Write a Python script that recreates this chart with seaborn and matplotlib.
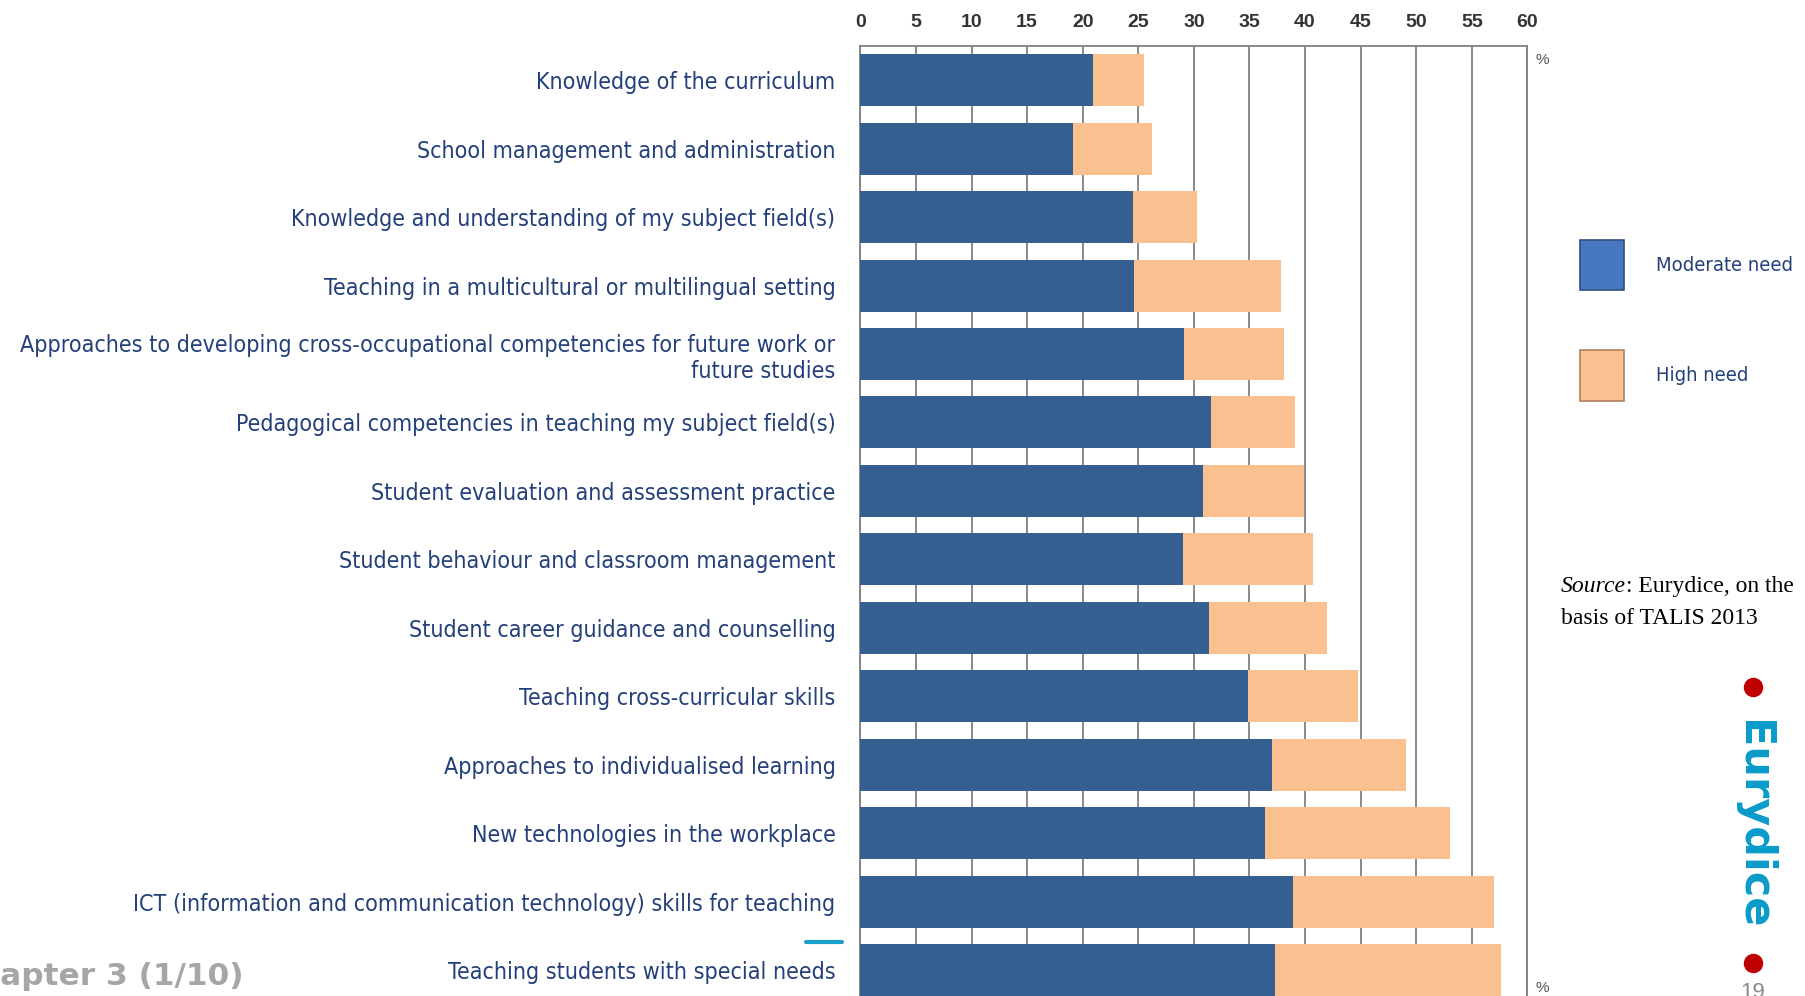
import matplotlib
matplotlib.use("Agg")
import matplotlib.pyplot as plt
import seaborn as sns
import pandas as pd
from matplotlib.patches import Patch
from matplotlib.lines import Line2D

categories = [
    "Knowledge of the curriculum",
    "School management and administration",
    "Knowledge and understanding of my subject field(s)",
    "Teaching in a multicultural or multilingual setting",
    "Approaches to developing cross-occupational competencies for future work or\nfuture studies",
    "Pedagogical competencies in teaching my subject field(s)",
    "Student evaluation and assessment practice",
    "Student behaviour and classroom management",
    "Student career guidance and counselling",
    "Teaching cross-curricular skills",
    "Approaches to individualised learning",
    "New technologies in the workplace",
    "ICT (information and communication technology) skills for teaching",
    "Teaching students with special needs",
]
moderate_need = [20.9, 19.1, 24.5, 24.6, 29.1, 31.5, 30.8, 29.0, 31.4, 34.9, 37.0, 36.4, 38.9, 37.3]
high_need = [4.6, 7.1, 5.8, 13.2, 9.0, 7.6, 9.1, 11.7, 10.6, 9.9, 12.1, 16.6, 18.1, 20.3]
x_ticks = list(range(0, 61, 5))
legend_labels = ["Moderate need", "High need"]

BLUE = "#365F91"
ORANGE = "#FAC08F"
NAVY = "#24407A"
GRID = "#808080"

sns.set_theme(style="white")
plt.rcParams["font.family"] = ["Liberation Sans", "DejaVu Sans"]

fig = plt.figure(figsize=(18.06, 9.96), dpi=100)
ax = fig.add_axes([0.4764, 0.0, 0.3693, 0.9538])

df = pd.DataFrame({"cat": categories, "moderate": moderate_need, "high": high_need})
df["total"] = df["moderate"] + df["high"]

sns.barplot(data=df, x="total", y="cat", color=ORANGE, saturation=1, width=0.76,
            linewidth=0, errorbar=None, ax=ax, zorder=2)
sns.barplot(data=df, x="moderate", y="cat", color=BLUE, saturation=1, width=0.76,
            linewidth=0, errorbar=None, ax=ax, zorder=3)

ax.set_xlim(0, 60)
ax.set_ylim(13.38, -0.5)
ax.set_xlabel("")
ax.set_ylabel("")
ax.xaxis.tick_top()
ax.set_xticks(x_ticks)
ax.set_xticklabels([str(t) for t in x_ticks], fontsize=14, fontweight="bold", color="#333333")
ax.tick_params(axis="x", length=0, pad=11)
ax.tick_params(axis="y", length=0, pad=18)
for lab in ax.get_yticklabels():
    lab.set_fontfamily(["DejaVu Sans"])
    lab.set_fontstretch("condensed")
    lab.set_fontsize(16.7)
    lab.set_color(NAVY)
    lab.set_multialignment("right")

ax.grid(axis="x", color=GRID, lw=1.3)
ax.grid(axis="y", visible=False)
ax.set_axisbelow(True)
for side in ["left", "right", "top"]:
    ax.spines[side].set_color(GRID)
    ax.spines[side].set_linewidth(1.3)
ax.spines["bottom"].set_visible(False)

ax.text(1.012, 0.985, "%", transform=ax.transAxes, fontsize=11, color="#555555", va="center", ha="left")
ax.text(1.012, 0.008, "%", transform=ax.transAxes, fontsize=11, color="#555555", va="center", ha="left")

# legend
handles = [Patch(facecolor="#4677C0", edgecolor="#2F4F80", lw=1.2),
           Patch(facecolor="#FAC08F", edgecolor="#B08060", lw=1.2)]
fig.legend(handles, legend_labels, loc="upper left", bbox_to_anchor=(1372 / 1568, 1 - 208 / 865),
           frameon=False, borderpad=0, borderaxespad=0, handlelength=2.17, handleheight=3.5,
           labelspacing=2.97, handletextpad=1.6, labelcolor=NAVY,
           prop={"family": "DejaVu Sans", "stretch": "condensed", "size": 14.5})

# source note
t1 = fig.text(1355 / 1568, 1 - 509 / 865, "Source", style="italic", family="Liberation Serif",
              fontsize=17, va="center", ha="left", color="black")
fig.add_artist(plt.Annotation(": Eurydice, on the", xy=(1, 0), xycoords=t1, va="bottom", ha="left",
                              family="Liberation Serif", fontsize=17, color="black"))
fig.text(1355 / 1568, 1 - 537 / 865, "basis of TALIS 2013", family="Liberation Serif",
         fontsize=17, va="center", ha="left", color="black")

# Eurydice side banner
fig.text(1522 / 1568, 1 - 716.5 / 865, "Eurydice", rotation=-90, ha="center", va="center",
         color="#0A9BCB", fontweight="bold", fontsize=31, family="DejaVu Sans")
for yy in [597, 836]:
    fig.add_artist(Line2D([1522 / 1568], [1 - yy / 865], marker="o", ms=13, color="#C00000",
                          transform=fig.transFigure))
fig.text(1522 / 1568, 1 - 853 / 865, "19", ha="center", va="top", fontsize=16, color="#888888")

# footer decorations
fig.text(211 / 1568, 1 - 848 / 865, "Chapter 3 (1/10)", ha="right", va="center", fontsize=22.5,
         fontweight="bold", color="#A6A6A6", family="DejaVu Sans")
fig.add_artist(Line2D([700 / 1568, 731 / 1568], [1 - 818 / 865] * 2, color="#1BA1C9", lw=3,
                      transform=fig.transFigure))

fig.savefig("out.png", dpi=100)
